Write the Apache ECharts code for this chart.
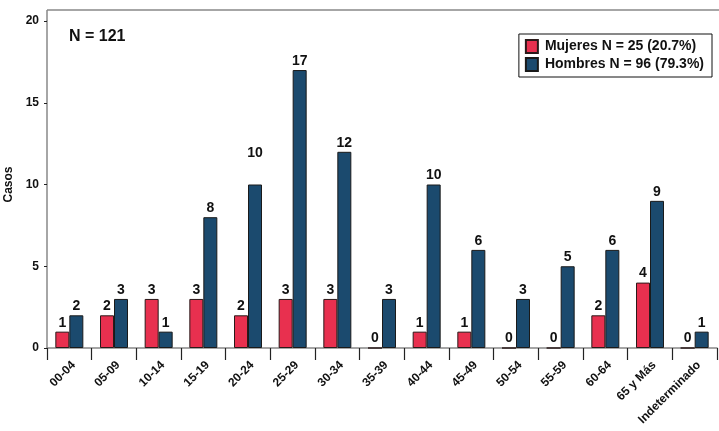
<!DOCTYPE html>
<html><head><meta charset="utf-8">
<script src="https://cdn.jsdelivr.net/npm/echarts@6/dist/echarts.min.js"></script>
<style>html,body{margin:0;padding:0;background:#fff}#c{width:719px;height:431px}</style>
</head><body><div id="c"></div>
<script>
const categories = ['00-04','05-09','10-14','15-19','20-24','25-29','30-34','35-39','40-44','45-49','50-54','55-59','60-64','65 y Más','Indeterminado'];
const mujeres = [1,2,3,3,2,3,3,0,1,1,0,0,2,4,0];
const hombres = [2,3,1,8,10,17,12,3,10,6,3,5,6,9,1];
const yTicks = [0,5,10,15,20];
const seriesNames = ['Mujeres N = 25 (20.7%)','Hombres N = 96 (79.3%)'];
const totalLabel = 'N = 121';

const FONT = 'Liberation Sans, Arial, sans-serif';
const chart = echarts.init(document.getElementById('c'));
const lbl = {show:true, position:'top', fontFamily:FONT, fontWeight:'bold', fontSize:14, color:'#111', distance:2};
chart.setOption({
  animation:false,
  textStyle:{fontFamily:FONT},
  grid:{left:47, right:2, top:21, bottom:83, outerBoundsMode:'none', containLabel:false},
  legend:{
    right:7, top:34, orient:'vertical', itemGap:3, itemWidth:12, itemHeight:13,
    padding:[5,8,5,6], borderColor:'#111', borderWidth:1, backgroundColor:'#fff',
    textStyle:{fontFamily:FONT, fontWeight:'bold', fontSize:14, color:'#111', padding:[0,0,0,2]},
    data:seriesNames.map(n=>({name:n, icon:'rect'}))
  },
  xAxis:{
    type:'category', data:categories,
    axisLine:{lineStyle:{color:'#888', width:1.5}},
    axisTick:{show:true, length:12, lineStyle:{color:'#222', width:1.2}},
    axisLabel:{rotate:45, interval:0, fontFamily:FONT, fontWeight:'bold', fontSize:12, color:'#111', margin:11,
      verticalAlign:'top'}
  },
  yAxis:{
    type:'value', min:0, max:20, interval:5,
    name:'Casos', nameLocation:'middle', nameGap:29, nameRotate:90,
    nameTextStyle:{fontFamily:FONT, fontWeight:'bold', fontSize:12, color:'#111'},
    axisLine:{show:true, lineStyle:{color:'#888', width:1.5}},
    axisTick:{show:true, length:3, lineStyle:{color:'#222'}},
    axisLabel:{fontFamily:FONT, fontWeight:'bold', fontSize:12, color:'#111', margin:8,
      formatter:v=>yTicks.includes(v)?String(v):''},
    splitLine:{show:false}
  },
  graphic:[
    {type:'line', shape:{x1:47, y1:10, x2:719, y2:10}, style:{stroke:'#888', lineWidth:1.5}},
    {type:'line', shape:{x1:47, y1:10, x2:47, y2:21}, style:{stroke:'#888', lineWidth:1.5}},
    {type:'text', left:69, top:29, style:{text:totalLabel, font:'bold 16px '+FONT, fill:'#111'}}
  ],
  series:[
    {name:seriesNames[0], type:'bar', data:mujeres, barWidth:14, barGap:'0%',
     itemStyle:{color:'#e8304f', borderColor:'#2a1a1a', borderWidth:1}, label:lbl},
    {name:seriesNames[1], type:'bar', data:hombres.map((v,i)=>i===4?{value:v,label:{offset:[0,-22]}}:v), barWidth:14,
     itemStyle:{color:'#1b4a6e', borderColor:'#1a1a1a', borderWidth:1}, label:lbl}
  ]
});
</script></body></html>
